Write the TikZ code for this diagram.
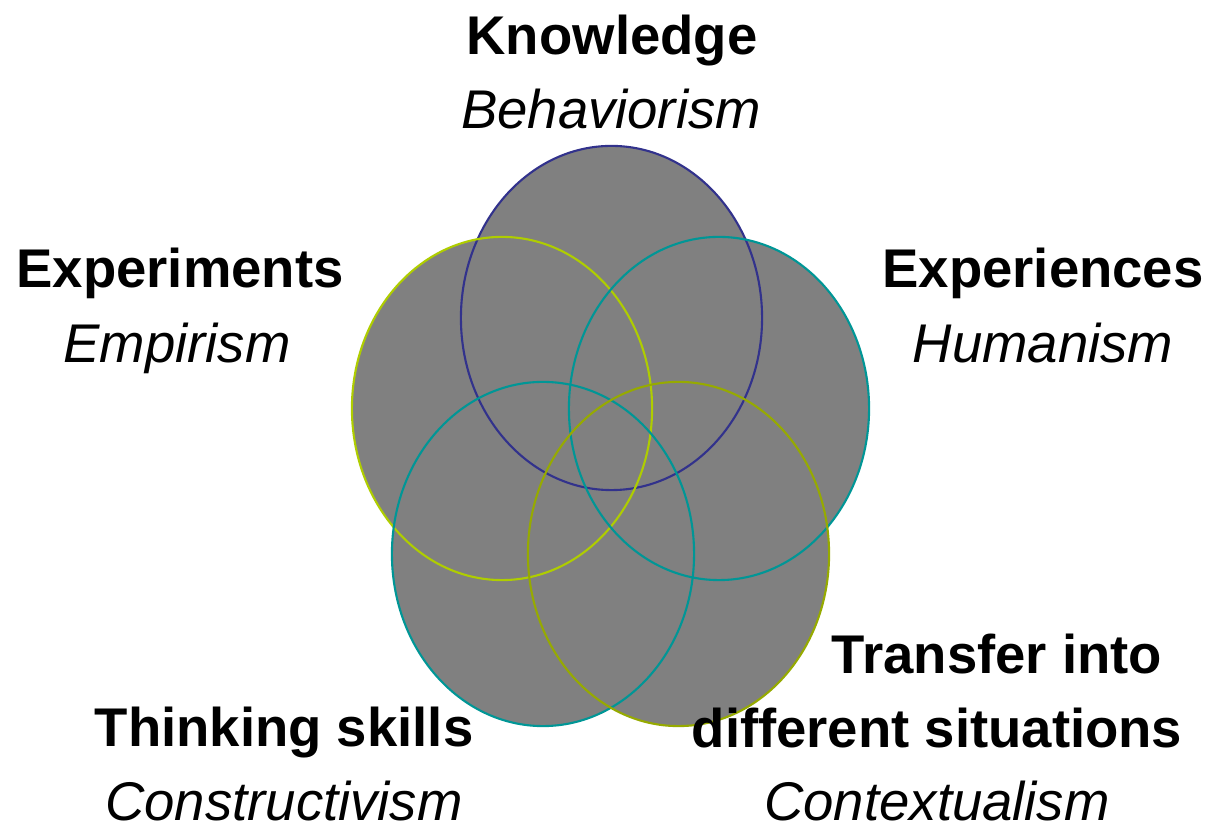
\documentclass[tikz,border=0pt]{standalone}
\usepackage{fontspec}
\setmainfont{Liberation Sans}
\definecolor{ringnavy}{RGB}{50,50,140}
\definecolor{ringlime}{RGB}{175,205,0}
\definecolor{ringteal}{RGB}{0,150,150}
\definecolor{ringolive}{RGB}{150,170,0}
\begin{document}
\begin{tikzpicture}
    %five learning fields
    	[x=0.01cm,y=-0.01cm,
    	 ring/.style={line width=0.6pt},
    	 field/.style={anchor=base,font=\fontsize{15.5}{18}\selectfont\bfseries,inner sep=0pt},
    	 school/.style={anchor=base,font=\fontsize{15.5}{18}\selectfont\itshape,inner sep=0pt}]
    \useasboundingbox (0,0) rectangle (1211,831);

    %fill the rings first
    \fill[gray] (611.5,318) ellipse [x radius=1.505cm, y radius=1.72cm];
    \fill[gray] (502,408.5) ellipse [x radius=1.5cm, y radius=1.715cm];
    \fill[gray] (719,408.5) ellipse [x radius=1.5cm, y radius=1.715cm];
    \fill[gray] (543,554)   ellipse [x radius=1.51cm, y radius=1.72cm];
    \fill[gray] (678.5,554) ellipse [x radius=1.505cm, y radius=1.72cm];

    %then draw their outlines
    \draw[ring,ringnavy]  (611.5,318) ellipse [x radius=1.505cm, y radius=1.72cm];
    \draw[ring,ringlime]  (502,408.5) ellipse [x radius=1.5cm, y radius=1.715cm];
    \draw[ring,ringteal]  (719,408.5) ellipse [x radius=1.5cm, y radius=1.715cm];
    \draw[ring,ringteal]  (543,554)   ellipse [x radius=1.51cm, y radius=1.72cm];
    \draw[ring,ringolive] (678.5,554) ellipse [x radius=1.505cm, y radius=1.72cm];

    %labels
    \node[field]  (know)   at (612,55)   {Knowledge};
    \node[school] (behav)  at (611,129)  {Behaviorism};
    \node[field]  (exper)  at (180,288)  {Experiments};
    \node[school] (empir)  at (177,363)  {Empirism};
    \node[field]  (expce)  at (1043,288) {Experiences};
    \node[school] (human)  at (1043,363) {Humanism};
    \node[field]  (think)  at (284,747)  {Thinking skills};
    \node[school] (constr) at (284,821)  {Constructivism};
    \node[field]  (trans)  at (997,674)  {Transfer into};
    \node[field]  (diff)   at (937,748)  {different situations};
    \node[school] (context) at (937,821) {Contextualism};
\end{tikzpicture}
\end{document}
